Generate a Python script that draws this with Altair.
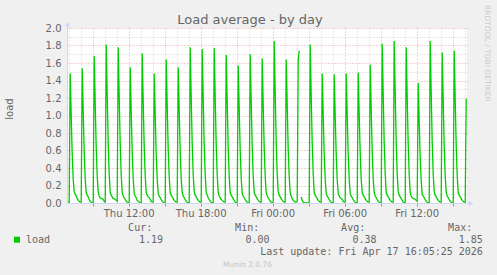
import altair as alt
import pandas as pd

# ---------------- data ----------------
series_start = "2026-04-16 06:53"      # first 5-minute sample
series_name = "load"
load_values = [
    0.02, 0.01,
    0.01, 1.48, 1.01, 0.56, 0.27, 0.13, 0.10, 0.08, 0.05, 0.03, 0.02, 0.01,   # Thu 07
    0.01, 1.54, 1.05, 0.59, 0.28, 0.12, 0.09, 0.07, 0.04, 0.02, 0.01, 0.00,   # Thu 08
    0.00, 1.68, 1.14, 0.64, 0.30, 0.13, 0.08, 0.06, 0.05, 0.05, 0.04, 0.02,   # Thu 09
    0.01, 1.81, 1.23, 0.69, 0.33, 0.12, 0.09, 0.07, 0.05, 0.05, 0.04, 0.03,   # Thu 10
    0.02, 1.78, 1.21, 0.68, 0.32, 0.12, 0.08, 0.06, 0.04, 0.02, 0.01, 0.00,   # Thu 11
    0.00, 1.55, 1.05, 0.59, 0.28, 0.11, 0.08, 0.06, 0.03, 0.02, 0.01, 0.00,   # Thu 12
    0.00, 1.71, 1.16, 0.65, 0.31, 0.12, 0.09, 0.07, 0.06, 0.04, 0.02, 0.01,   # Thu 13
    0.01, 1.48, 1.01, 0.56, 0.27, 0.11, 0.08, 0.06, 0.04, 0.02, 0.01, 0.00,   # Thu 14
    0.00, 1.64, 1.12, 0.62, 0.30, 0.12, 0.09, 0.07, 0.05, 0.03, 0.02, 0.01,   # Thu 15
    0.01, 1.55, 1.05, 0.59, 0.28, 0.12, 0.08, 0.06, 0.04, 0.02, 0.01, 0.00,   # Thu 16
    0.00, 1.78, 1.21, 0.68, 0.32, 0.13, 0.09, 0.07, 0.05, 0.03, 0.02, 0.01,   # Thu 17
    0.01, 1.76, 1.20, 0.67, 0.32, 0.12, 0.09, 0.06, 0.04, 0.02, 0.01, 0.00,   # Thu 18
    0.00, 1.77, 1.20, 0.67, 0.32, 0.12, 0.08, 0.06, 0.04, 0.03, 0.02, 0.01,   # Thu 19
    0.01, 1.69, 1.15, 0.64, 0.30, 0.12, 0.09, 0.07, 0.05, 0.03, 0.01, 0.00,   # Thu 20
    0.00, 1.57, 1.07, 0.60, 0.28, 0.11, 0.08, 0.06, 0.04, 0.02, 0.01, 0.00,   # Thu 21
    0.00, 1.70, 1.16, 0.65, 0.31, 0.12, 0.09, 0.07, 0.05, 0.03, 0.02, 0.01,   # Thu 22
    0.01, 1.65, 1.12, 0.63, 0.30, 0.12, 0.08, 0.06, 0.04, 0.02, 0.01, 0.00,   # Thu 23
    0.00, 1.85, 1.26, 0.70, 0.33, 0.13, 0.09, 0.07, 0.05, 0.03, 0.02, 0.01,   # Fri 00
    0.01, 1.64, 1.12, 0.62, 0.30, 0.12, 0.08, 0.05, 0.03, 0.02, 0.01, 0.01,   # Fri 01
    0.02, 1.63, 1.74, None, 0.07, 0.03, 0.01, 0.00, 0.00, 0.00, 0.00, 0.00,   # Fri 02 (gap)
    0.00, 1.81, 1.23, 0.69, 0.33, 0.12, 0.09, 0.07, 0.05, 0.03, 0.02, 0.01,   # Fri 03
    0.01, 1.48, 1.01, 0.56, 0.27, 0.11, 0.08, 0.06, 0.04, 0.02, 0.01, 0.00,   # Fri 04
    0.00, 1.47, 1.00, 0.56, 0.26, 0.11, 0.08, 0.06, 0.05, 0.04, 0.02, 0.01,   # Fri 05
    0.01, 1.48, 1.01, 0.56, 0.27, 0.11, 0.08, 0.06, 0.04, 0.02, 0.01, 0.00,   # Fri 06
    0.00, 1.49, 1.01, 0.57, 0.27, 0.12, 0.09, 0.07, 0.05, 0.03, 0.02, 0.01,   # Fri 07
    0.01, 1.58, 1.07, 0.60, 0.28, 0.12, 0.08, 0.06, 0.04, 0.02, 0.01, 0.00,   # Fri 08
    0.00, 1.82, 1.24, 0.69, 0.33, 0.12, 0.09, 0.07, 0.05, 0.03, 0.02, 0.01,   # Fri 09
    0.01, 1.85, 1.26, 0.70, 0.33, 0.13, 0.09, 0.07, 0.05, 0.03, 0.01, 0.00,   # Fri 10
    0.00, 1.78, 1.21, 0.68, 0.32, 0.12, 0.08, 0.06, 0.05, 0.05, 0.04, 0.03,   # Fri 11
    0.02, 1.37, 0.93, 0.52, 0.25, 0.10, 0.08, 0.06, 0.04, 0.02, 0.01, 0.00,   # Fri 12
    0.00, 1.85, 1.26, 0.70, 0.33, 0.13, 0.09, 0.07, 0.05, 0.03, 0.02, 0.01,   # Fri 13
    0.01, 1.72, 1.17, 0.65, 0.31, 0.12, 0.08, 0.06, 0.04, 0.02, 0.01, 0.00,   # Fri 14
    0.00, 1.74, 1.18, 0.66, 0.31, 0.12, 0.09, 0.07, 0.05, 0.03, 0.02, 0.01,   # Fri 15
    0.01, 1.19,                                                               # Fri 16
]
y_grid_ticks = [0.0, 0.1, 0.2, 0.3, 0.4, 0.5, 0.6, 0.7, 0.8, 0.9, 1.0,
                1.1, 1.2, 1.3, 1.4, 1.5, 1.6, 1.7, 1.8, 1.9, 2.0]
x_label_format = "%a %H:%M"
title_text = "Load average - by day"
legend_headers = ["Cur:", "Min:", "Avg:", "Max:"]
legend_numbers = ["1.19", "0.00", "0.38", "1.85"]
last_update = "Last update: Fri Apr 17 16:05:25 2026"
version_text = "Munin 2.0.76"
watermark = "RRDTOOL / TOBI OETIKER"

# ---------------- build table ----------------
times = pd.date_range(series_start, periods=len(load_values), freq="5min")
df = pd.DataFrame({"time": times.strftime("%Y-%m-%dT%H:%M:%S"), "load": load_values})
df["segment"] = df["load"].isna().cumsum()      # break the line at missing samples
df = df.dropna(subset=["load"])

# hourly grid positions on the time axis
grid_hours = pd.date_range("2026-04-16 07:00", "2026-04-17 16:00", freq="h")
x_grid_ticks = [alt.DateTime(year=int(t.year), month=int(t.month), date=int(t.day),
                             hours=int(t.hour)) for t in grid_hours]

# ---------------- styles ----------------
W, H = 400, 175
GREEN = "#00CC00"
AXIS_C = "#CFD6F8"
FONT_C = "#666666"
MINOR_C = "#cfcfcf"
MAJOR_C = "#eca2a2"
SANS = "DejaVu Sans"
MONO = "DejaVu Sans Mono"

x_scale = alt.Scale(
    domain=[alt.DateTime(year=2026, month=4, date=16, hours=6, minutes=52),
            alt.DateTime(year=2026, month=4, date=17, hours=16, minutes=12)],
    nice=False)
y_scale = alt.Scale(domain=[0, 2], nice=False, zero=False)

x_axis = alt.Axis(
    grid=True, values=x_grid_ticks,
    gridColor={"condition": {"test": "hours(datum.value) % 3 == 0", "value": MAJOR_C},
               "value": MINOR_C},
    gridDash=[1, 2],
    ticks=True, tickSize=3,
    tickColor={"condition": {"test": "hours(datum.value) % 3 == 0", "value": "#e87070"},
               "value": "transparent"},
    labelExpr="hours(datum.value) % 6 == 0 ? timeFormat(datum.value, '%a %H:%M') : ''",
    labelFont=SANS, labelFontSize=10, labelColor=FONT_C, labelPadding=10,
    labelBaseline="alphabetic", labelFlush=False, labelOverlap=False,
    domain=False, title=None,
)
y_axis = alt.Axis(
    grid=True, values=y_grid_ticks,
    gridColor={"condition": {"test": "round(datum.value * 10) % 2 == 0", "value": MAJOR_C},
               "value": MINOR_C},
    gridDash=[1, 2],
    labelExpr="round(datum.value * 10) % 2 == 0 ? format(datum.value, '.1f') : ''",
    labelFont=SANS, labelFontSize=10, labelColor=FONT_C, labelPadding=6,
    labelFlush=False, labelOverlap=False, ticks=False, domain=False, title=None,
)

line = alt.Chart(df).mark_line(color=GREEN, strokeWidth=1.3, clip=True).encode(
    x=alt.X("time:T", scale=x_scale, axis=x_axis),
    y=alt.Y("load:Q", scale=y_scale, axis=y_axis),
    detail="segment:N",
)

one = pd.DataFrame({"k": [0]})
axis_lines = [
    alt.Chart(one).mark_rule(color=AXIS_C, strokeWidth=1).encode(
        x=alt.value(0.5), y=alt.value(-6), y2=alt.value(H)),
    alt.Chart(one).mark_rule(color=AXIS_C, strokeWidth=1).encode(
        x=alt.value(0), x2=alt.value(W + 4), y=alt.value(H + 0.5)),
    alt.Chart(one).mark_point(shape="triangle-up", filled=True, size=28,
                              color=AXIS_C, opacity=1).encode(
        x=alt.value(0.5), y=alt.value(-4)),
    alt.Chart(one).mark_point(shape="triangle-right", filled=True, size=28,
                              color=AXIS_C, opacity=1).encode(
        x=alt.value(W + 4), y=alt.value(H + 0.5)),
]


def text(label, x, y, align="left", size=10, font=MONO, color=FONT_C,
         angle=0, baseline="alphabetic"):
    return alt.Chart(pd.DataFrame({"label": [label]})).mark_text(
        align=align, baseline=baseline, font=font, fontSize=size,
        color=color, angle=angle).encode(
        x=alt.value(x), y=alt.value(y), text="label:N")


header_right = [85.2, 192.2, 298.2, 405.2]
number_right = [96.0, 202.6, 309.6, 415.9]
texts = [
    text(title_text, 183, -4, align="center", size=13, font=SANS),
    text(series_name, -57, 81, align="center", size=10, font=SANS,
         angle=270, baseline="middle"),
    text(series_name, -41, 214.6),
    text(last_update, 415.9, 226.5, align="right"),
    text(version_text, 180.5, 239, align="center", size=7.5, font=SANS,
         color="#c4c4c4"),
    text(watermark, 420.3, -23, align="left", size=7.5, font=SANS,
         color="#cccccc", angle=90, baseline="middle"),
]
for h, xr in zip(legend_headers, header_right):
    texts.append(text(h, xr, 202.6, align="right"))
for n, xr in zip(legend_numbers, number_right):
    texts.append(text(n, xr, 214.6, align="right"))

swatch = alt.Chart(pd.DataFrame({"s": [series_name]})).mark_square(
    size=36, color=GREEN, filled=True, opacity=1).encode(
    x=alt.value(-50), y=alt.value(211.7))

chart = alt.layer(line, *axis_lines, swatch, *texts).properties(
    width=W, height=H, background="#F0F0F0",
    padding={"left": 67, "top": 28, "right": 30, "bottom": 72},
    autosize=alt.AutoSizeParams(type="none"),
).configure_view(fill="white", stroke=None)

chart.save("out.html", embed_options={"renderer": "svg", "actions": False})
